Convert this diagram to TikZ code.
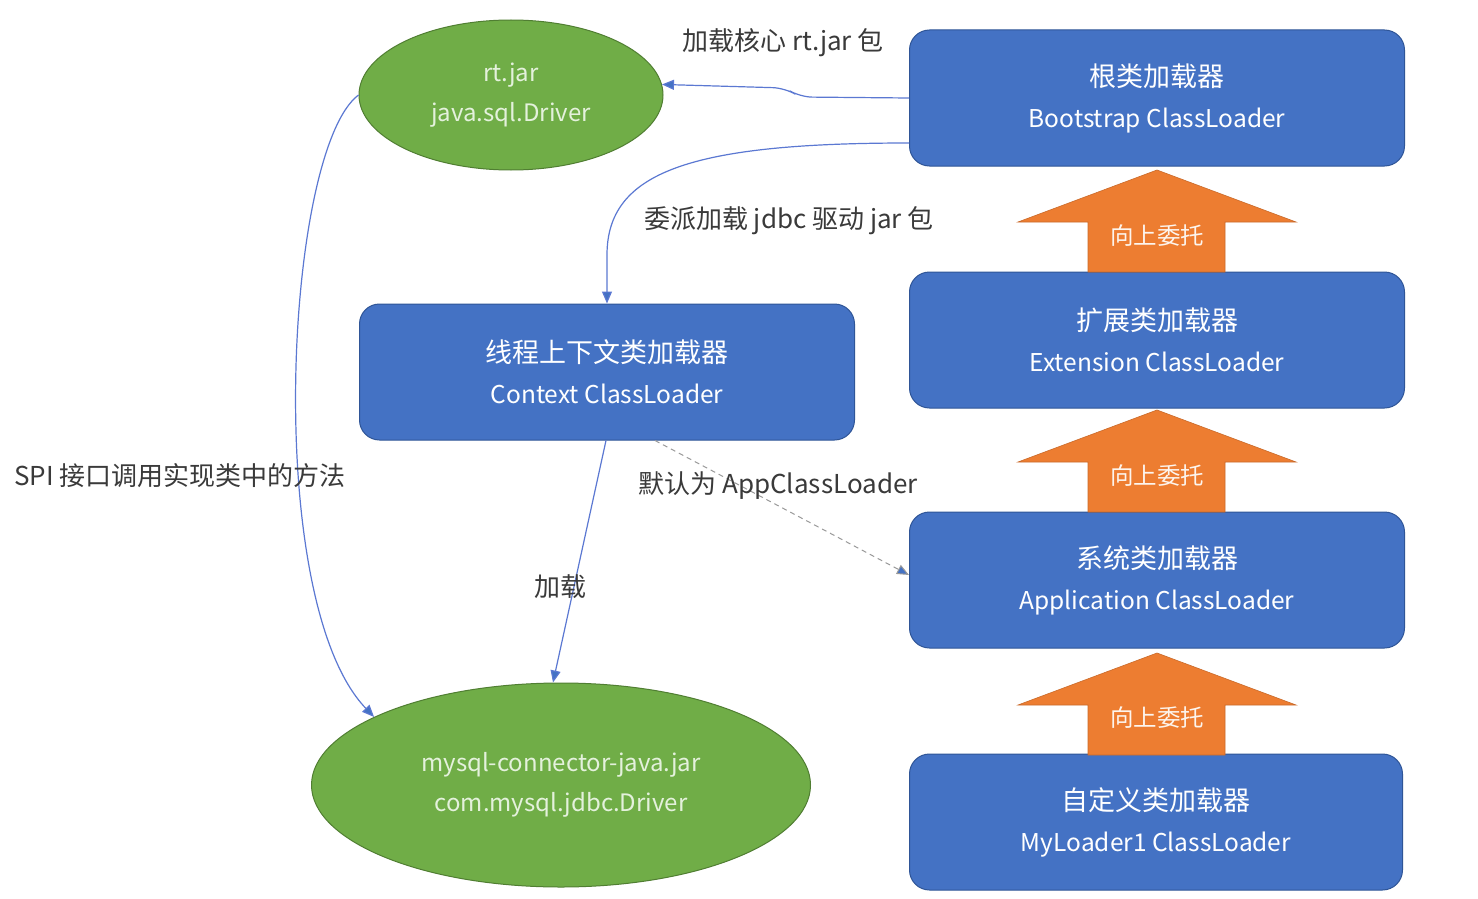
\documentclass[tikz,border=0pt]{standalone}
\usepackage{fontspec}
\setmainfont{Noto Sans CJK SC}
\usetikzlibrary{shapes.geometric,arrows.meta}
\definecolor{boxblue}{HTML}{4472C4}
\definecolor{boxedge}{HTML}{2F5597}
\definecolor{ellgreen}{HTML}{70AD47}
\definecolor{elledge}{HTML}{507E32}
\definecolor{upor}{HTML}{ED7D31}
\definecolor{lineblue}{HTML}{5B78D2}
\definecolor{labgray}{HTML}{3A3A3A}
\definecolor{elltext}{HTML}{E4F1DC}
\newcommand{\cjkline}[1]{{\fontsize{27}{41}\selectfont #1}}
\tikzset{
  loaderbox/.style={draw=boxedge, line width=1pt, fill=boxblue, rounded corners=20pt,
    minimum width=495pt, minimum height=136pt, text=white, align=center,
    font=\fontsize{24.5}{41}\selectfont},
  jarell/.style={ellipse, draw=elledge, line width=1pt, fill=ellgreen, text=elltext,
    align=center, inner sep=0pt, font=\fontsize{24}{40}\selectfont},
  uparrow/.style={fill=upor, draw=upor!85!black, line width=0.6pt},
  uptext/.style={text=white!92!upor, font=\fontsize{23.5}{26}\selectfont},
  lab/.style={text=labgray, font=\fontsize{26}{30}\selectfont, inner sep=0pt},
  conn/.style={draw=lineblue, line width=1.2pt, -{Triangle[length=12pt,width=10pt,fill=boxblue]}},
}
\begin{document}
\begin{tikzpicture}[x=1pt,y=-1pt]
\useasboundingbox (0,0) rectangle (1478,899);
\fill[white] (0,0) rectangle (1478,899);

% loader boxes
\node[loaderbox] (boot) at (1157,98) {\cjkline{根类加载器}\\Bootstrap ClassLoader};
\node[loaderbox] (ext)  at (1157,340) {\cjkline{扩展类加载器}\\Extension ClassLoader};
\node[loaderbox] (app)  at (1157,580) {\cjkline{系统类加载器}\\Application ClassLoader};
\node[loaderbox, minimum width=493pt] (my) at (1156,822) {\cjkline{自定义类加载器}\\MyLoader1 ClassLoader};
\node[loaderbox] (ctx)  at (607,372) {\cjkline{线程上下文类加载器}\\Context ClassLoader};

% jar ellipses
\node[jarell, minimum width=304pt, minimum height=150pt] (rt) at (511,95) {rt.jar\\java.sql.Driver};
\node[jarell, minimum width=499pt, minimum height=204pt] (mysql) at (561,785) {mysql-connector-java.jar\\com.mysql.jdbc.Driver};

% upward delegation arrows
\foreach \t/\w/\b in {170/222/272, 410/462/512, 653/705/755}{
  \path[uparrow] (1157,\t) -- (1296,\w) -- (1225,\w) -- (1225,\b) -- (1088,\b) -- (1088,\w) -- (1018,\w) -- cycle;
}
\node[uptext] (u1) at (1157,236) {向上委托};
\node[uptext] (u2) at (1157,476) {向上委托};
\node[uptext] (u3) at (1157,718) {向上委托};

% connectors
\draw[conn, rounded corners=12pt] (boot.west) -- (800,97) -- (785,88) -- (rt.4);
\draw[conn] ([yshift=-45pt]boot.west) .. controls (690,143) and (607,172) .. (607,255) -- (ctx.north);
\draw[conn] ([xshift=-1pt]ctx.south) -- ([xshift=-8pt]mysql.north);
\draw[conn, dashed, dash pattern=on 5pt off 4pt, line width=1pt, draw=gray!80] ([xshift=48pt]ctx.south) -- ([yshift=5pt]app.west);
\draw[conn] (rt.west) .. controls (285,150) and (262,600) .. (mysql.160);

% labels
\node[lab] (l1) at (783,43) {加载核心 rt.jar 包};
\node[lab] (l2) at (789,221) {委派加载 jdbc 驱动 jar 包};
\node[lab] (l3) at (778,486) {默认为 AppClassLoader};
\node[lab] (l4) at (560,587) {加载};
\node[lab] (l5) at (180,476) {SPI 接口调用实现类中的方法};
\end{tikzpicture}
\end{document}
